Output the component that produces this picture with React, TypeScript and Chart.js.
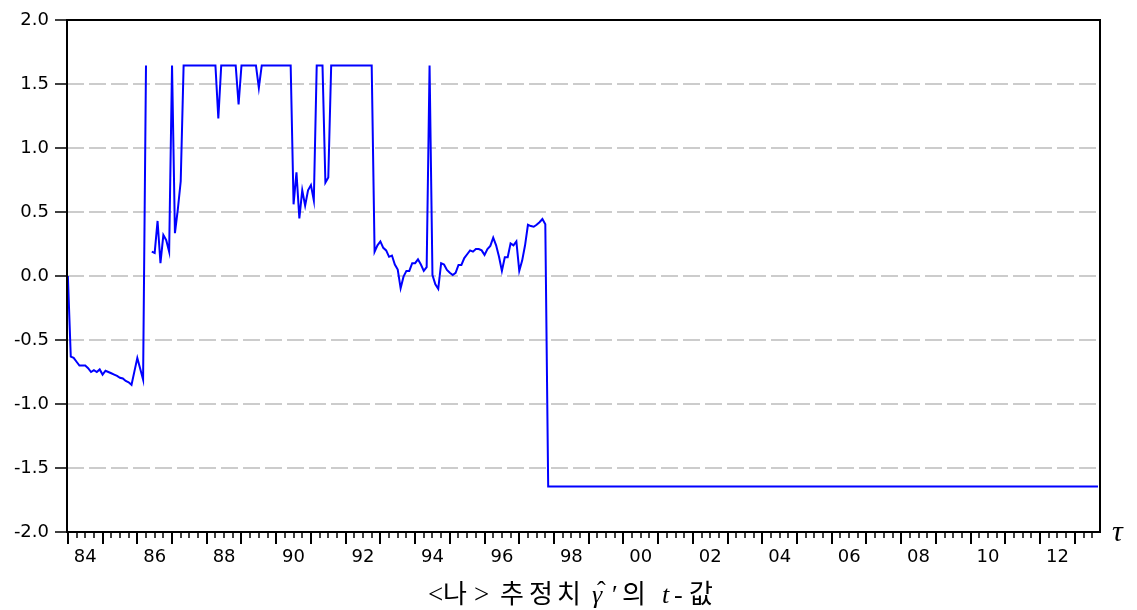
import React, { useEffect, useRef } from 'react';
import { Chart, registerables } from 'chart.js';

Chart.register(...registerables);

// Monthly t-values, first observation 1984M01 (month index 0)
const startYear = 1984;
const values1984to1986: (number | null)[] = [
  0.0, -0.63, -0.64, -0.67, -0.7, -0.7, -0.7, -0.72, -0.75, -0.735, -0.75, -0.73,
  -0.77, -0.74, -0.75, -0.76, -0.77, -0.78, -0.795, -0.8, -0.82, -0.83, -0.85, -0.745,
  -0.64, -0.725, -0.81, 1.645, null, 0.19, 0.18, 0.43, 0.1, 0.32, 0.28, 0.19,
];
const values1987to1989: (number | null)[] = [
  1.645, 0.335, 0.52, 0.74, 1.645, 1.645, 1.645, 1.645, 1.645, 1.645, 1.645, 1.645,
  1.645, 1.645, 1.645, 1.645, 1.23, 1.645, 1.645, 1.645, 1.645, 1.645, 1.645, 1.34,
  1.645, 1.645, 1.645, 1.645, 1.645, 1.645, 1.47, 1.645, 1.645, 1.645, 1.645, 1.645,
];
const values1990to1992: (number | null)[] = [
  1.645, 1.645, 1.645, 1.645, 1.645, 1.645, 0.56, 0.81, 0.45, 0.67, 0.55, 0.67,
  0.71, 0.59, 1.645, 1.645, 1.645, 0.73, 0.77, 1.645, 1.645, 1.645, 1.645, 1.645,
  1.645, 1.645, 1.645, 1.645, 1.645, 1.645, 1.645, 1.645, 1.645, 1.645, 0.19, 0.24,
];
const values1993to1997: (number | null)[] = [
  0.27, 0.22, 0.2, 0.15, 0.16, 0.09, 0.05, -0.096, -0.005, 0.04, 0.04, 0.1,
  0.1, 0.13, 0.09, 0.04, 0.07, 1.645, 0.008, -0.065, -0.1, 0.1, 0.09, 0.047,
  0.025, 0.008, 0.025, 0.086, 0.086, 0.14, 0.17, 0.2, 0.19, 0.21, 0.21, 0.2,
  0.165, 0.21, 0.235, 0.3, 0.24, 0.15, 0.04, 0.146, 0.146, 0.255, 0.24, 0.27,
  0.04, 0.12, 0.24, 0.4, 0.39, 0.385, 0.4, 0.42, 0.445, 0.405,
];
// From 1997M11 to the last observation 2013M09 the value stays at the lower bound
const tailValue = -1.645;
const tailStartMonth = 166;
const lastMonth = 356;

const yearLabels = ['84', '86', '88', '90', '92', '94', '96', '98', '00', '02', '04', '06', '08', '10', '12'];
const labelYears = [1984, 1986, 1988, 1990, 1992, 1994, 1996, 1998, 2000, 2002, 2004, 2006, 2008, 2010, 2012];

const yMin = -2;
const yMax = 2;
const yStep = 0.5;

const tickFont = { family: '"DejaVu Sans", "Liberation Sans", sans-serif', size: 18 };
const serif = '"Liberation Serif", "DejaVu Serif", serif';
const hangul = '"Noto Sans CJK KR", sans-serif';

export default function App() {
  const ref = useRef<HTMLCanvasElement>(null);

  useEffect(() => {
    const monthly = [...values1984to1986, ...values1987to1989, ...values1990to1992, ...values1993to1997];
    const points: { x: number; y: number | null }[] = monthly.map((v, i) => ({ x: i, y: v }));
    points.push({ x: tailStartMonth, y: tailValue });
    points.push({ x: lastMonth, y: tailValue });

    const labelPos = labelYears.map((y) => (y - startYear) * 12 + 6);

    const framePlugin = {
      id: 'frameAndTicks',
      afterDraw(chart: any) {
        const { ctx, chartArea } = chart;
        const xs = chart.scales.x;
        ctx.save();
        ctx.strokeStyle = '#000';
        for (let m = 0; m <= lastMonth; m += 3) {
          const px = Math.round(xs.getPixelForValue(m));
          const long = m % 12 === 0;
          ctx.lineWidth = long ? 2 : 1.5;
          ctx.beginPath();
          ctx.moveTo(px, chartArea.bottom);
          ctx.lineTo(px, chartArea.bottom + (long ? 12 : 6));
          ctx.stroke();
        }
        ctx.lineWidth = 2;
        ctx.strokeRect(chartArea.left, chartArea.top, chartArea.right - chartArea.left, chartArea.bottom - chartArea.top);
        ctx.restore();
      },
    };

    const chart = new Chart(ref.current!, {
      type: 'line',
      data: {
        datasets: [
          {
            data: points as any,
            borderColor: '#0000ff',
            borderWidth: 2,
            pointRadius: 0,
            fill: false,
            tension: 0,
            spanGaps: false,
          },
        ],
      },
      options: {
        responsive: false,
        animation: false,
        events: [],
        layout: { padding: { top: 20, right: 37, left: 0, bottom: 0 } },
        plugins: { legend: { display: false }, tooltip: { enabled: false }, title: { display: false } },
        scales: {
          x: {
            type: 'linear',
            min: -0.3,
            max: 356.7,
            afterFit: (s: any) => {
              s.height = 78;
            },
            afterBuildTicks: (s: any) => {
              s.ticks = labelPos.map((v) => ({ value: v }));
            },
            ticks: {
              autoSkip: false,
              maxRotation: 0,
              padding: 15,
              color: '#000',
              font: tickFont,
              callback: (value: any) => {
                const k = labelPos.indexOf(Number(value));
                return k >= 0 ? yearLabels[k] : '';
              },
            },
            grid: { display: false, drawTicks: false },
            border: { display: false },
          },
          y: {
            min: yMin,
            max: yMax,
            afterFit: (s: any) => {
              s.width = 67;
            },
            ticks: {
              stepSize: yStep,
              padding: 6,
              color: '#000',
              font: tickFont,
              callback: (v: any) => Number(v).toFixed(1),
            },
            grid: {
              color: (c: any) =>
                c.tick && (c.tick.value === yMax || c.tick.value === yMin) ? 'rgba(0,0,0,0)' : '#cccccc',
              lineWidth: 2,
              tickColor: '#000',
              tickWidth: 1.5,
              tickLength: 12,
              drawTicks: true,
            },
            border: { display: false, dash: [17, 5] },
          },
        },
      },
      plugins: [framePlugin],
    });
    return () => chart.destroy();
  }, []);

  const ib = (w: number, font: string, size: number, italic = false): React.CSSProperties => ({
    display: 'inline-block',
    width: w,
    fontFamily: font,
    fontSize: size,
    fontStyle: italic ? 'italic' : 'normal',
    lineHeight: '30px',
    verticalAlign: 'baseline',
    position: 'relative',
  });

  return (
    <div style={{ position: 'fixed', left: 0, top: 0, width: 1137, height: 610, background: '#fff', overflow: 'hidden' }}>
      <canvas ref={ref} width={1137} height={610} style={{ position: 'absolute', left: 0, top: 0, width: 1137, height: 610 }} />
      <div
        style={{
          position: 'absolute',
          left: 1112,
          top: 516,
          fontFamily: serif,
          fontStyle: 'italic',
          fontSize: 30,
          lineHeight: '30px',
          color: '#000',
        }}
      >
        τ
      </div>
      <div
        style={{
          position: 'absolute',
          left: 428,
          top: 577,
          fontFamily: serif,
          fontSize: 26,
          lineHeight: '30px',
          color: '#000',
          whiteSpace: 'nowrap',
        }}
      >
        <span style={ib(15, serif, 27)}>&lt;</span>
        <span style={ib(31, hangul, 26)}>나</span>
        <span style={ib(26, serif, 27)}>&gt;</span>
        <span style={ib(29, hangul, 26)}>추</span>
        <span style={ib(28, hangul, 26)}>정</span>
        <span style={ib(35, hangul, 26)}>치</span>
        <span style={ib(20, serif, 26, true)}>
          γ
          <span style={{ position: 'absolute', left: 5, top: -4, fontStyle: 'normal' }}>ˆ</span>
        </span>
        <span style={ib(10, serif, 26)}>′</span>
        <span style={ib(40, hangul, 26)}>의</span>
        <span style={ib(12, serif, 26, true)}>t</span>
        <span style={ib(15, serif, 26)}>-</span>
        <span style={ib(32, hangul, 26)}>값</span>
      </div>
    </div>
  );
}
